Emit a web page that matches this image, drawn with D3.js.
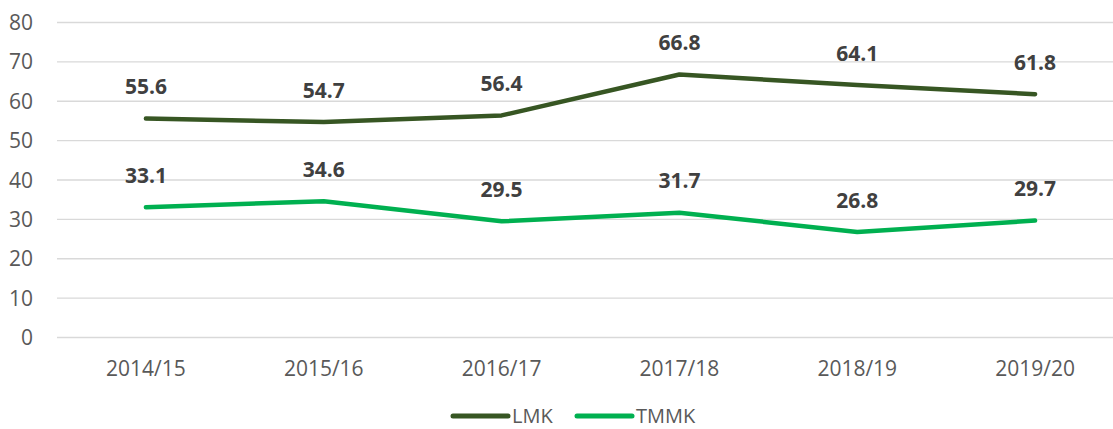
<!DOCTYPE html>
<html>
<head>
<meta charset="utf-8">
<script src="https://cdn.jsdelivr.net/npm/d3@7"></script>
<style>
  body { margin: 0; background: #fff; }
  text { font-family: "Open Sans", sans-serif; }
</style>
</head>
<body>
<svg id="chart" width="1113" height="429"></svg>
<script>
// data
const years = ["2014/15", "2015/16", "2016/17", "2017/18", "2018/19", "2019/20"];
const lmk = [55.6, 54.7, 56.4, 66.8, 64.1, 61.8];
const tmmk = [33.1, 34.6, 29.5, 31.7, 26.8, 29.7];
const yTicks = [0, 10, 20, 30, 40, 50, 60, 70, 80];

const series = [
  { name: "LMK", values: lmk, color: "#375623" },
  { name: "TMMK", values: tmmk, color: "#00B050" }
];

const svg = d3.select("#chart");

const x = d3.scaleBand().domain(years).range([57, 1124]);
const y = d3.scaleLinear().domain([0, 80]).range([337.5, 22.5]);

// gridlines
svg.append("g")
  .selectAll("line")
  .data(yTicks)
  .enter()
  .append("line")
  .attr("x1", 57)
  .attr("x2", 1113)
  .attr("y1", d => y(d))
  .attr("y2", d => y(d))
  .attr("stroke", "#d9d9d9")
  .attr("stroke-width", 1.3);

// y axis labels
svg.append("g")
  .selectAll("text")
  .data(yTicks)
  .enter()
  .append("text")
  .attr("x", 33)
  .attr("y", d => y(d))
  .attr("dy", "0.36em")
  .attr("text-anchor", "end")
  .attr("font-size", 21)
  .attr("fill", "#595959")
  .text(d => d);

// x axis labels
svg.append("g")
  .selectAll("text")
  .data(years)
  .enter()
  .append("text")
  .attr("x", d => x(d) + x.bandwidth() / 2)
  .attr("y", 376)
  .attr("text-anchor", "middle")
  .attr("font-size", 21)
  .attr("fill", "#595959")
  .text(d => d);

const line = d3.line()
  .x((d, i) => x(years[i]) + x.bandwidth() / 2)
  .y(d => y(d));

series.forEach(function (s) {
  svg.append("path")
    .attr("d", line(s.values))
    .attr("fill", "none")
    .attr("stroke", s.color)
    .attr("stroke-width", 4.5)
    .attr("stroke-linecap", "round")
    .attr("stroke-linejoin", "round");

  svg.append("g")
    .selectAll("text")
    .data(s.values)
    .enter()
    .append("text")
    .attr("x", (d, i) => x(years[i]) + x.bandwidth() / 2)
    .attr("y", d => y(d) - 32)
    .attr("dy", "0.36em")
    .attr("text-anchor", "middle")
    .attr("font-size", 21)
    .attr("font-weight", "bold")
    .attr("fill", "#404040")
    .text(d => d.toFixed(1));
});

// legend (nudged up a little so the text stays inside the frame)
const legendX = [453, 577];
const legend = svg.append("g")
  .selectAll("g")
  .data(series)
  .enter()
  .append("g")
  .attr("transform", (d, i) => "translate(" + legendX[i] + ",416)");

legend.append("line")
  .attr("x1", 0)
  .attr("x2", 55)
  .attr("stroke", d => d.color)
  .attr("stroke-width", 5)
  .attr("stroke-linecap", "round");

legend.append("text")
  .attr("x", 59)
  .attr("dy", "0.36em")
  .attr("font-size", 20)
  .attr("fill", "#595959")
  .text(d => d.name);
</script>
</body>
</html>
